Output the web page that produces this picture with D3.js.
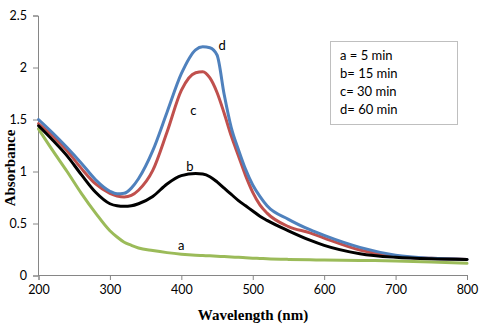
<!DOCTYPE html>
<html><head><meta charset="utf-8">
<script src="https://cdn.jsdelivr.net/npm/d3@7"></script>
<style>
html,body{margin:0;padding:0;background:#fff;}
svg{display:block;}
</style></head>
<body>
<svg id="chart" width="483" height="326"></svg>
<script>
const wavelengths = [200,220,240,260,280,300,310,320,330,340,360,380,400,420,430,440,450,460,470,480,490,500,510,520,550,580,600,650,700,750,800];
const seriesA = [1.41,1.20,1.00,0.79,0.60,0.43,0.37,0.32,0.29,0.265,0.24,0.22,0.205,0.195,0.192,0.189,0.185,0.182,0.178,0.175,0.171,0.167,0.164,0.161,0.155,0.151,0.149,0.145,0.140,0.130,0.117];
const seriesB = [1.44,1.30,1.15,0.97,0.80,0.69,0.67,0.665,0.67,0.69,0.76,0.88,0.96,0.98,0.975,0.95,0.90,0.84,0.78,0.72,0.67,0.62,0.57,0.53,0.43,0.34,0.29,0.21,0.175,0.16,0.155];
const seriesC = [1.46,1.34,1.20,1.03,0.88,0.79,0.765,0.755,0.77,0.82,1.01,1.38,1.78,1.95,1.96,1.90,1.76,1.56,1.34,1.15,0.96,0.80,0.68,0.60,0.47,0.41,0.36,0.245,0.185,0.165,0.155];
const seriesD = [1.50,1.37,1.23,1.08,0.92,0.81,0.785,0.79,0.84,0.93,1.20,1.57,1.94,2.17,2.20,2.19,2.12,1.74,1.42,1.21,1.02,0.87,0.76,0.67,0.54,0.44,0.385,0.27,0.195,0.165,0.155];
const seriesNames = ["a","b","c","d"];
const seriesColors = ["#9bbb59","#000000","#c0504d","#4f81bd"];
const curveLabelPos = [[400,0.29],[412,1.05],[417,1.59],[457,2.22]];
const legendLines = ["a = 5 min","b= 15 min","c= 30 min","d= 60 min"];
const xTicks = [200,300,400,500,600,700,800];
const yTicks = [0,0.5,1,1.5,2,2.5];
const yTickLabels = ["0","0.5","1","1.5","2","2.5"];
const xTitle = "Wavelength (nm)";
const yTitle = "Absorbance";

const svg = d3.select("#chart");
const x = d3.scaleLinear().domain([200,800]).range([38.5,467]);
const y = d3.scaleLinear().domain([0,2.5]).range([275.5,15.5]);
const axisColor = "#868686";
const tickFont = "Lato, 'Open Sans', sans-serif";

const gx = svg.append("g").attr("transform","translate(0,275)")
  .call(d3.axisBottom(x).tickValues(xTicks).tickSize(5).tickPadding(5).tickFormat(d3.format("d")));
const gy = svg.append("g").attr("transform","translate(38,0)")
  .call(d3.axisLeft(y).tickValues(yTicks).tickSize(5).tickPadding(6).tickFormat((d,i)=>yTickLabels[i]));
[gx,gy].forEach(g=>{
  g.selectAll("path,line").attr("stroke",axisColor);
  g.selectAll("text").attr("fill","#000").style("font-family",tickFont).style("font-size","12.5px");
});

const series = [seriesA,seriesB,seriesC,seriesD];
const line = d3.line().x((d,i)=>x(wavelengths[i])).y(d=>y(d)).curve(d3.curveMonotoneX);
const drawOrder = [0,2,3,1];
drawOrder.forEach(k=>{
  svg.append("path").datum(series[k]).attr("d",line)
    .attr("fill","none").attr("stroke",seriesColors[k]).attr("stroke-width",3)
    .attr("stroke-linejoin","round").attr("stroke-linecap","round");
});

seriesNames.forEach((n,i)=>{
  svg.append("text").attr("x",x(curveLabelPos[i][0])).attr("y",y(curveLabelPos[i][1]))
    .attr("text-anchor","middle").attr("dominant-baseline","central")
    .style("font-family",tickFont).style("font-size","13px").text(n);
});

const lg = svg.append("g");
lg.append("rect").attr("x",330.5).attr("y",41.5).attr("width",127).attr("height",83)
  .attr("fill","#fff").attr("stroke","#bfbfbf").attr("stroke-width",1);
legendLines.forEach((t,i)=>{
  lg.append("text").attr("x",340).attr("y",55+i*18.1).attr("dominant-baseline","central")
    .style("font-family",tickFont).style("font-size","13px").text(t);
});

svg.append("text").attr("x",253).attr("y",320).attr("text-anchor","middle")
  .style("font-family","'Liberation Serif', 'Times New Roman', serif").style("font-weight","bold").style("font-size","15px")
  .text(xTitle);
svg.append("text").attr("transform","translate(15,168) rotate(-90)").attr("text-anchor","middle")
  .style("font-family","'Liberation Serif', 'Times New Roman', serif").style("font-weight","bold").style("font-size","15px")
  .text(yTitle);
</script>
</body></html>
